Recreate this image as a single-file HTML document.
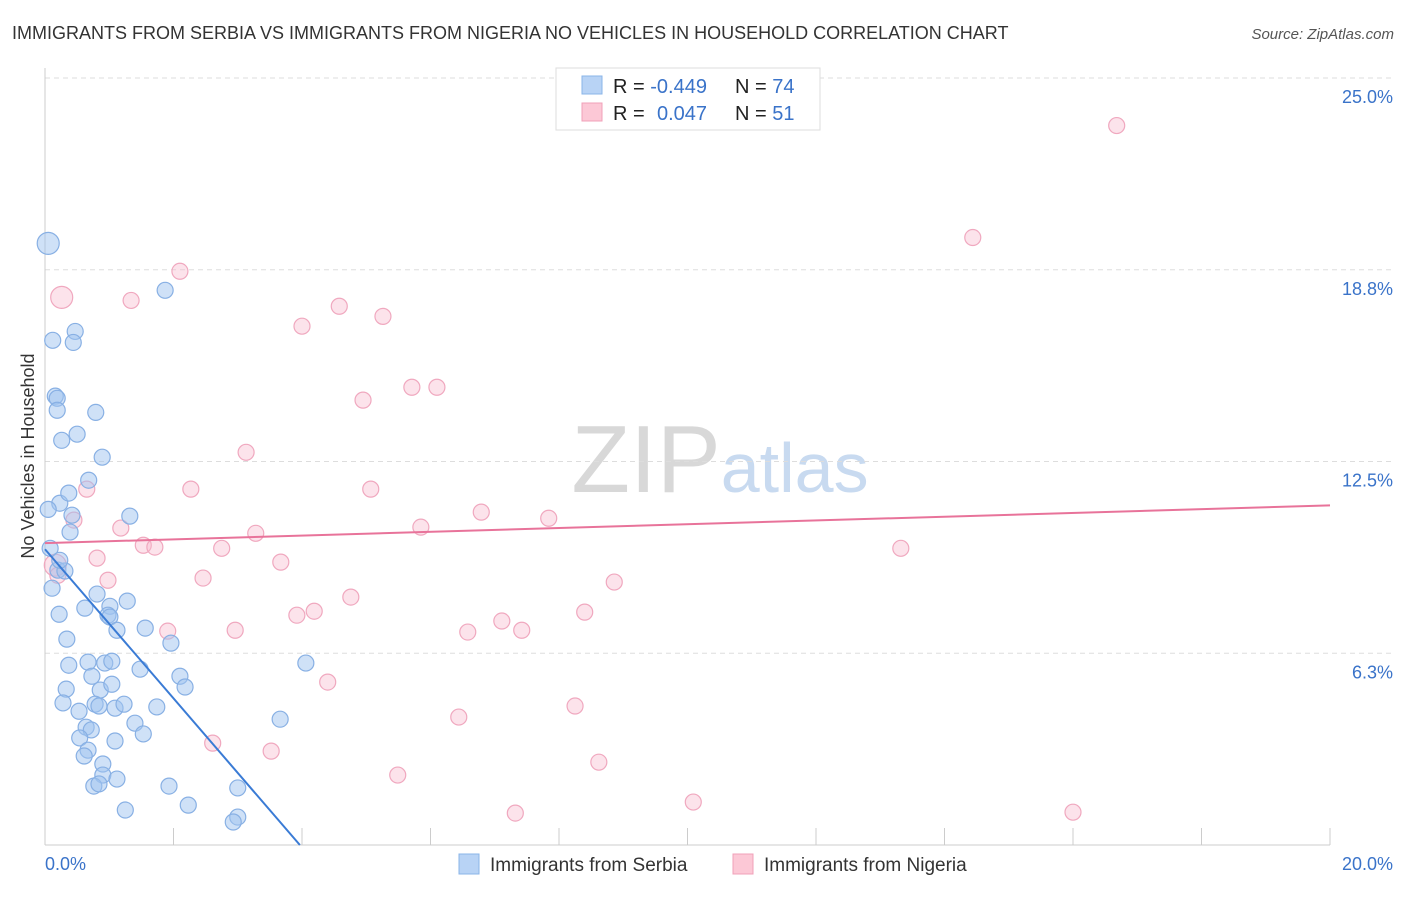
<!DOCTYPE html>
<html><head><meta charset="utf-8">
<style>
body{margin:0;background:#fff;font-family:"Liberation Sans",sans-serif;}
svg text{font-family:"Liberation Sans",sans-serif;}
</style></head>
<body>
<svg id="chart" width="1406" height="892" xmlns="http://www.w3.org/2000/svg">
<text x="12" y="39" font-size="18" fill="#333">IMMIGRANTS FROM SERBIA VS IMMIGRANTS FROM NIGERIA NO VEHICLES IN HOUSEHOLD CORRELATION CHART</text>
<text x="1394" y="39" font-size="15" fill="#555" text-anchor="end" font-style="italic">Source: ZipAtlas.com</text>
<text x="720" y="492" font-size="96" text-anchor="middle" fill="#d8d8d8" font-family="Liberation Serif"><tspan>ZIP</tspan><tspan fill="#c8daf0" font-family="Liberation Sans" font-size="70">atlas</tspan></text>
<g id="grid"></g>
<g id="axes"></g>
<g id="marks"></g>
<text transform="translate(34,456) rotate(-90)" font-size="18" fill="#333" text-anchor="middle">No Vehicles in Household</text>
<g>
<rect x="556" y="68" width="264" height="62" fill="#fff" stroke="#ddd"/>
<rect x="582" y="76" width="20" height="18" fill="#b8d3f5" stroke="#8ab4e8"/>
<rect x="582" y="103" width="20" height="18" fill="#fcc8d6" stroke="#f0a0b8"/>
<text x="613" y="93" font-size="20" fill="#222">R = <tspan fill="#3a73c9">-0.449</tspan><tspan x="735">N = </tspan><tspan fill="#3a73c9">74</tspan></text>
<text x="613" y="120" font-size="20" fill="#222">R = <tspan fill="#3a73c9" x="657">0.047</tspan><tspan x="735">N = </tspan><tspan fill="#3a73c9">51</tspan></text>
</g>
<g>
<rect x="459" y="854" width="20" height="20" fill="#b8d3f5" stroke="#8ab4e8"/>
<text x="490" y="871" font-size="19" fill="#333">Immigrants from Serbia</text>
<rect x="733" y="854" width="20" height="20" fill="#fcc8d6" stroke="#f0a0b8"/>
<text x="764" y="871" font-size="19" fill="#333">Immigrants from Nigeria</text>
</g>
</svg>
<script>
const serbiaX=[0.05,0.12,0.47,0.44,0.16,0.19,0.19,0.79,0.26,0.5,0.89,0.68,0.23,0.37,0.05,0.42,1.32,0.39,0.08,1.87,0.2,0.31,0.11,0.81,0.62,1.01,1.28,0.22,0.98,1.01,1.12,1.56,1.96,0.34,0.37,0.67,0.93,1.04,1.48,2.1,0.73,0.33,0.86,2.18,1.04,0.28,0.78,0.84,1.09,1.23,1.74,0.53,3.66,4.06,1.4,0.64,0.72,0.54,1.53,1.09,0.67,0.61,0.9,0.9,1.12,0.76,0.84,1.93,3.0,2.23,1.25,3.0,2.93,0.23];
const serbiaY=[19.61,16.45,16.74,16.38,14.63,14.56,14.17,14.1,13.19,13.39,12.64,11.89,11.14,11.47,10.94,10.75,10.72,10.2,9.67,18.08,8.96,8.93,8.37,8.18,7.72,7.78,7.95,7.52,7.49,7.43,7.0,7.07,6.58,6.71,5.86,5.96,5.93,5.99,5.73,5.5,5.5,5.08,5.05,5.15,5.24,4.63,4.59,4.53,4.46,4.59,4.5,4.36,4.1,5.93,3.97,3.84,3.75,3.49,3.62,3.39,3.09,2.9,2.64,2.28,2.15,1.92,1.99,1.92,1.86,1.3,1.14,0.91,0.75,9.28];
const nigeriaX=[16.68,14.44,2.1,0.26,1.34,4.58,4.0,5.26,5.71,6.1,4.95,3.13,0.65,2.27,5.07,0.45,6.79,7.84,5.85,1.18,3.28,1.53,1.71,2.75,13.32,0.81,3.67,0.16,2.46,0.98,8.86,4.76,4.19,3.92,8.4,7.11,1.91,2.96,6.58,7.42,4.4,8.25,6.44,2.61,3.52,5.49,8.62,10.09,7.32,16.0,0.2];
const nigeriaY=[23.45,19.8,18.7,17.85,17.75,17.56,16.91,17.23,14.92,14.92,14.5,12.8,11.6,11.6,11.6,10.59,10.85,10.65,10.36,10.33,10.16,9.77,9.71,9.67,9.67,9.35,9.22,9.12,8.7,8.63,8.57,8.08,7.62,7.49,7.59,7.3,6.97,7.0,6.94,7.0,5.31,4.53,4.17,3.32,3.06,2.28,2.7,1.4,1.04,1.07,8.79];
const serbiaSize=[11,8,8,8,8,8,8,8,8,8,8,8,8,8,8,8,8,8,8,8,8,8,8,8,8,8,8,8,8,8,8,8,8,8,8,8,8,8,8,8,8,8,8,8,8,8,8,8,8,8,8,8,8,8,8,8,8,8,8,8,8,8,8,8,8,8,8,8,8,8,8,8,8,8];
const trendSerbia=[9.64,-2.43];
const trendNigeria=[9.84,0.0615];
const yTicks=[25.0,18.75,12.5,6.25];
const yTickLabels=["25.0%","18.8%","12.5%","6.3%"];
const xTicks=[0,2,4,6,8,10,12,14,16,18,20];
const xTickLabels=["0.0%","20.0%"];

const X0=45,X1=1330,Y0=845,Y25=78;
const sx=v=>X0+(X1-X0)*v/20;
const sy=v=>Y0-(Y0-Y25)*v/25;
const NS="http://www.w3.org/2000/svg";
function mk(tag,attrs,parent){const e=document.createElementNS(NS,tag);for(const k in attrs)e.setAttribute(k,attrs[k]);parent.appendChild(e);return e;}
const grid=document.getElementById('grid'),axes=document.getElementById('axes'),marks=document.getElementById('marks');
yTicks.forEach((t,i)=>{
 const l=mk('line',{x1:X0,x2:1394,y1:sy(t),y2:sy(t),stroke:'#ddd','stroke-dasharray':'5,4'},grid);
 
 
 const tx=mk('text',{x:1393,y:sy(t)+25,'font-size':18,fill:'#3a73c9','text-anchor':'end'},axes);
 tx.textContent=yTickLabels[i];
 
 
});
const ax=mk('line',{x1:X0,x2:X0,y1:68,y2:Y0,stroke:'#ccc'},axes);


const bx=mk('line',{x1:X0,x2:X1,y1:Y0,y2:Y0,stroke:'#ccc'},axes);


xTicks.forEach(t=>{
 const l=mk('line',{x1:sx(t),x2:sx(t),y1:828,y2:Y0,stroke:'#ccc'},axes);
 
 
});
const xl0=mk('text',{x:45,y:870,'font-size':18,fill:'#3a73c9'},axes);xl0.textContent=xTickLabels[0];


const xl1=mk('text',{x:1393,y:870,'font-size':18,fill:'#3a73c9','text-anchor':'end'},axes);xl1.textContent=xTickLabels[1];


nigeriaX.forEach((x,i)=>{
 const r=(i===3||i===27)?11:8;
 const c=mk('circle',{cx:sx(x),cy:sy(nigeriaY[i]),r:r,fill:'rgba(248,185,205,0.4)',stroke:'#f0a8bf','stroke-width':1.2},marks);
 
 
});
serbiaX.forEach((x,i)=>{
 const c=mk('circle',{cx:sx(x),cy:sy(serbiaY[i]),r:serbiaSize[i],fill:'rgba(160,196,240,0.5)',stroke:'#88b0e4','stroke-width':1.2},marks);
 
 
});
const xEndS=-trendSerbia[0]/trendSerbia[1];
const ls=mk('line',{x1:sx(0),y1:sy(trendSerbia[0]),x2:sx(xEndS),y2:sy(0),stroke:'#3a7bd5','stroke-width':2},marks);


const ln=mk('line',{x1:sx(0),y1:sy(trendNigeria[0]),x2:sx(20),y2:sy(trendNigeria[0]+20*trendNigeria[1]),stroke:'#e8739a','stroke-width':2},marks);


</script>
</body></html>
